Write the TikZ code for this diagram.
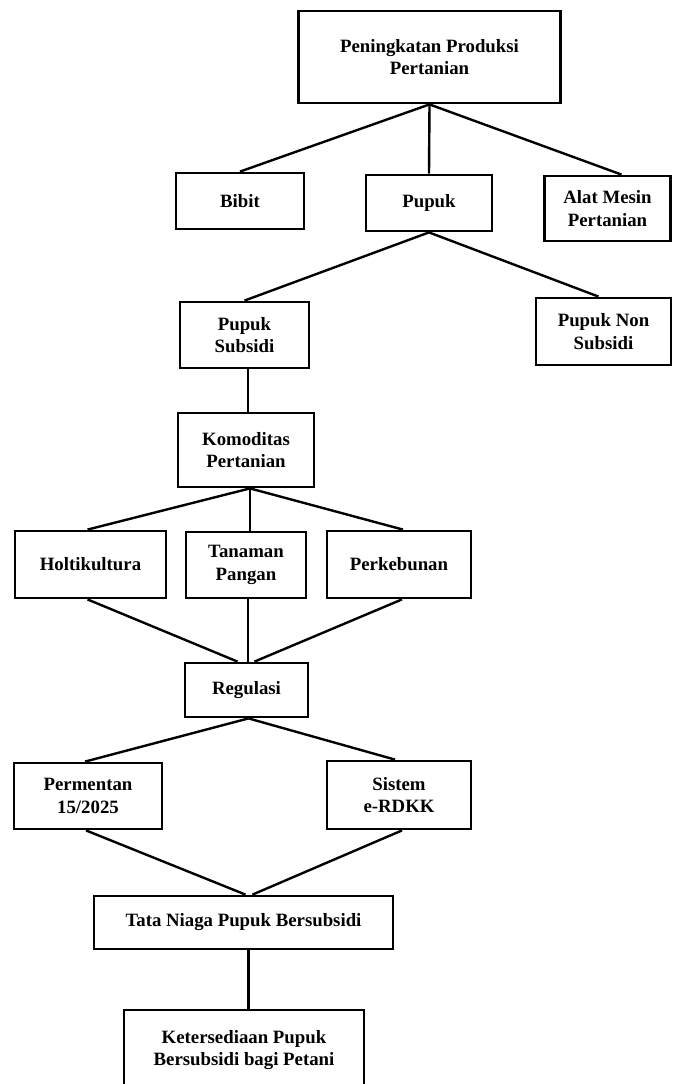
\documentclass[tikz,border=0pt]{standalone}
\usepackage{fontspec}
\setmainfont{Liberation Serif}
\usetikzlibrary{positioning}

\tikzset{
  kotak/.style 2 args={draw, line width=2.8pt, align=center, inner sep=0pt,
    minimum width=#1, minimum height=#2,
    font=\bfseries\fontsize{18.8}{22.5}\selectfont},
  garis/.style={line width=2.4pt}
}

\begin{document}
\begin{tikzpicture}[x=1pt,y=-1pt]
  \useasboundingbox (0,0) rectangle (673,1084);

  % tingkat atas
  \node[kotak={262}{92}] (atas) at (429.5,57) {Peningkatan Produksi\\Pertanian};
  \node[kotak={128}{56}] (bibit) at (240,201) {Bibit};
  \node[kotak={126}{56}] (pupuk) at (429,203) {Pupuk};
  \node[kotak={126}{65}] (alat) at (607.5,208.5) {Alat Mesin\\Pertanian};

  % jenis pupuk
  \node[kotak={129}{66}] (subsidi) at (244.5,335) {Pupuk\\Subsidi};
  \node[kotak={135}{67}] (nonsub) at (603.5,331.5) {Pupuk Non\\Subsidi};

  % komoditas
  \node[kotak={136}{74}] (komoditas) at (246,450) {Komoditas\\Pertanian};
  \node[kotak={151}{67}] (holti) at (90.5,564.5) {Holtikultura};
  \node[kotak={120}{66}] (tanaman) at (246,565) {Tanaman\\Pangan};
  \node[kotak={144}{67}] (kebun) at (399,564.5) {Perkebunan};

  % regulasi
  \node[kotak={123}{54}] (regulasi) at (246.5,690) {Regulasi};
  \node[kotak={148}{66}] (permentan) at (88,796) {Permentan\\15/2025};
  \node[kotak={144}{68}] (sistem) at (399,795) {Sistem\\e-RDKK};

  % tata niaga
  \node[kotak={299}{53}] (tata) at (243.5,922.5) {Tata Niaga Pupuk Bersubsidi};
  \node[kotak={240}{80}] (sedia) at (244,1050) {Ketersediaan Pupuk\\Bersubsidi bagi Petani};

  \draw[garis] (atas.south) -- (bibit.north);
  \draw[garis] (atas.south) -- (pupuk.north);
  \draw[garis] (atas.south) -- ([xshift=14pt]alat.north);

  \draw[garis] (pupuk.south) -- (subsidi.north);
  \draw[garis] (pupuk.south) -- ([xshift=-5pt]nonsub.north);

  \draw[garis] ([xshift=3.5pt]subsidi.south) -- ([xshift=2pt]komoditas.north);

  \draw[garis] ([xshift=4pt]komoditas.south) -- ([xshift=-3pt]holti.north);
  \draw[garis] ([xshift=4pt]komoditas.south) -- ([xshift=4pt]tanaman.north);
  \draw[garis] ([xshift=4pt]komoditas.south) -- ([xshift=4pt]kebun.north);

  \draw[garis] ([xshift=-3pt]holti.south) -- ([xshift=-9pt]regulasi.north);
  \draw[garis] ([xshift=2pt]tanaman.south) -- ([xshift=1.5pt]regulasi.north);
  \draw[garis] ([xshift=3pt]kebun.south) -- ([xshift=8pt]regulasi.north);

  \draw[garis] ([xshift=2pt]regulasi.south) -- ([xshift=-3pt]permentan.north);
  \draw[garis] ([xshift=2pt]regulasi.south) -- ([xshift=-4pt]sistem.north);

  \draw[garis] ([xshift=-2pt]permentan.south) -- ([xshift=2pt]tata.north);
  \draw[garis] ([xshift=3pt]sistem.south) -- ([xshift=9pt]tata.north);

  \draw[garis] ([xshift=5pt]tata.south) -- ([xshift=4.5pt]sedia.north);
\end{tikzpicture}
\end{document}
